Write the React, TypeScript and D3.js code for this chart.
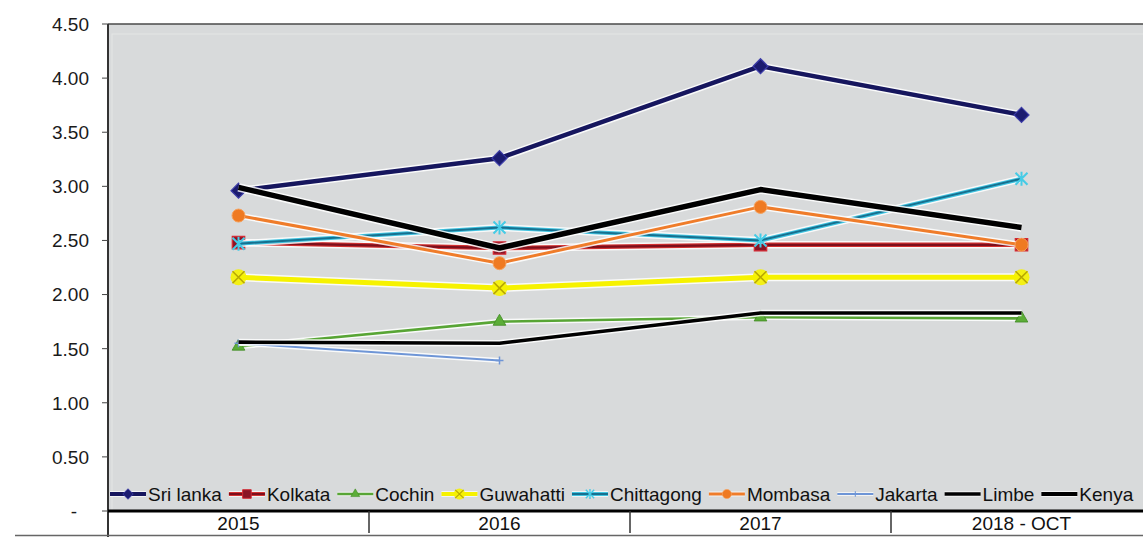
import React, { useMemo } from "react";
import * as d3 from "d3";

// Categories and tick values
const categories = ["2015", "2016", "2017", "2018 - OCT"];
const yTicks = [0, 0.5, 1, 1.5, 2, 2.5, 3, 3.5, 4, 4.5];

// Series values per category (null = no data)
const sriLanka = [2.96, 3.26, 4.11, 3.66];
const kolkata = [2.48, 2.43, 2.46, 2.46];
const cochin = [1.52, 1.75, 1.79, 1.78];
const guwahatti = [2.16, 2.06, 2.16, 2.16];
const chittagong = [2.47, 2.62, 2.5, 3.07];
const mombasa = [2.73, 2.29, 2.81, 2.46];
const jakarta: (number | null)[] = [1.55, 1.39, null, null];
const limbe = [1.56, 1.55, 1.83, 1.83];
const kenya = [2.99, 2.43, 2.97, 2.62];

const seriesNames = ["Sri lanka", "Kolkata", "Cochin", "Guwahatti", "Chittagong", "Mombasa", "Jakarta", "Limbe", "Kenya"];
const seriesValues: (number | null)[][] = [sriLanka, kolkata, cochin, guwahatti, chittagong, mombasa, jakarta, limbe, kenya];

type Marker = "diamond" | "square" | "triangle" | "times" | "asterisk" | "circle" | "plus" | "none";
interface Style { color: string; inner?: string; width: number; marker: Marker; }

const styles: Record<string, Style> = {
  "Sri lanka": { color: "#16165e", width: 4.5, marker: "diamond" },
  Kolkata: { color: "#d23030", inner: "#7c0f1c", width: 4.5, marker: "square" },
  Cochin: { color: "#58a535", width: 2.6, marker: "triangle" },
  Guwahatti: { color: "#f6f200", width: 5, marker: "times" },
  Chittagong: { color: "#3fc3e0", inner: "#17708f", width: 4, marker: "asterisk" },
  Mombasa: { color: "#ef7c2a", width: 3, marker: "circle" },
  Jakarta: { color: "#6e95d6", width: 2, marker: "plus" },
  Limbe: { color: "#000000", width: 3.6, marker: "none" },
  Kenya: { color: "#000000", width: 5.5, marker: "none" },
};

const W = 1143;
const H = 537;
const FONT = "'Liberation Sans', Arial, sans-serif";
const FS = 19;

function MarkerGlyph({ type, x, y, scale = 1 }: { type: Marker; x: number; y: number; scale?: number }) {
  const t = `translate(${x},${y}) scale(${scale})`;
  switch (type) {
    case "diamond":
      return <path transform={t} d="M0,-7.5L7.5,0L0,7.5L-7.5,0Z" fill="#1c1c70" stroke="#3c3ca8" strokeWidth={1.2} />;
    case "square":
      return <path transform={t} d={d3.symbol(d3.symbolSquare, 150)()!} fill="#8a1526" stroke="#d42a34" strokeWidth={1.4} />;
    case "triangle":
      return <path transform={t} d={d3.symbol(d3.symbolTriangle, 70)()!} fill="#5cad38" stroke="#3f8a22" strokeWidth={0.8} />;
    case "times":
      return (
        <g transform={t}>
          <circle r={8} fill="#f6f200" opacity={0.9} />
          <path d="M-6,-6L6,6M-6,6L6,-6" stroke="#b8a800" strokeWidth={1.6} />
        </g>
      );
    case "asterisk":
      return (
        <g transform={t}>
          <path d="M-6,-6L6,6M-6,6L6,-6M0,-7L0,7" stroke="#45cbe6" strokeWidth={2} />
        </g>
      );
    case "circle":
      return <circle transform={t} r={6.5} fill="#ef7a22" stroke="#f6a15c" strokeWidth={1} />;
    case "plus":
      return <path transform={t} d="M-4,0L4,0M0,-4L0,4" stroke="#6e95d6" strokeWidth={1.5} />;
    default:
      return null;
  }
}

export default function App() {
  const margin = { left: 108, top: 24, bottom: 511 };
  const x = d3.scaleBand<string>().domain(categories).range([margin.left, margin.left + 261 * categories.length]).paddingInner(0).paddingOuter(0);
  const y = d3.scaleLinear().domain([0, 4.5]).range([margin.bottom, margin.top]);
  const cx = (c: string) => (x(c) ?? 0) + x.bandwidth() / 2;

  const line = d3
    .line<{ c: string; v: number | null }>()
    .defined((d) => d.v != null)
    .x((d) => cx(d.c))
    .y((d) => y(d.v as number));

  const fmt = (v: number) => (v === 0 ? "-" : d3.format(".2f")(v));

  // Legend layout: widths measured from the rendered font
  const legendItems = useMemo(() => {
    const canvas = document.createElement("canvas");
    const ctx = canvas.getContext("2d")!;
    ctx.font = `${FS}px ${FONT}`;
    let cur = 110;
    return seriesNames.map((name) => {
      const w = ctx.measureText(name).width;
      const item = { name, x: cur, tx: cur + 38 };
      cur = cur + 38 + w + 7;
      return item;
    });
  }, []);

  const legendY = 494;

  return (
    <svg width={W} height={H} style={{ position: "absolute", left: 0, top: 0, background: "#fff" }} fontFamily={FONT}>
      {/* plot area */}
      <rect x={margin.left} y={margin.top} width={W - margin.left} height={margin.bottom - margin.top} fill="#d8dadb" />
      <rect x={margin.left + 4} y={margin.top + 10} width={W - margin.left} height={margin.bottom - margin.top - 10} fill="none" stroke="#e4e6e6" strokeWidth={1} />
      <line x1={margin.left} x2={W} y1={margin.top} y2={margin.top} stroke="#4a4a4a" strokeWidth={1.5} />

      {/* y axis */}
      <line x1={margin.left} x2={margin.left} y1={margin.top} y2={H} stroke="#333" strokeWidth={2} />
      {yTicks.map((t) => (
        <g key={t}>
          <line x1={margin.left - 6} x2={margin.left} y1={y(t)} y2={y(t)} stroke="#444" strokeWidth={1} />
          <text x={89} dx={t === 0 ? -12 : 0} y={y(t)} dy="0.36em" textAnchor="end" fontSize={FS} fill="#1a1a1a">
            {fmt(t)}
          </text>
        </g>
      ))}

      {/* series */}
      {seriesNames.map((name, i) => {
        const s = styles[name];
        const pts = categories.map((c, j) => ({ c, v: seriesValues[i][j] }));
        const d = line(pts) ?? "";
        return (
          <g key={name}>
            <path d={d} fill="none" stroke="#fff" strokeWidth={s.width + 3} strokeLinejoin="round" opacity={0.85} />
            <path d={d} fill="none" stroke={s.color} strokeWidth={s.width} strokeLinejoin="round" />
            {s.inner && <path d={d} fill="none" stroke={s.inner} strokeWidth={s.width / 2} strokeLinejoin="round" />}
            {pts
              .filter((p) => p.v != null)
              .map((p) => (
                <MarkerGlyph key={p.c} type={s.marker} x={cx(p.c)} y={y(p.v as number)} />
              ))}
          </g>
        );
      })}

      {/* legend */}
      {legendItems.map((it) => {
        const s = styles[it.name];
        return (
          <g key={it.name}>
            <line x1={it.x} x2={it.x + 36} y1={legendY} y2={legendY} stroke="#fff" strokeWidth={Math.min(s.width, 4) + 2} opacity={0.7} />
            <line x1={it.x} x2={it.x + 36} y1={legendY} y2={legendY} stroke={s.color} strokeWidth={Math.min(s.width, 4)} />
            {s.inner && <line x1={it.x} x2={it.x + 36} y1={legendY} y2={legendY} stroke={s.inner} strokeWidth={1.8} />}
            <MarkerGlyph type={s.marker} x={it.x + 18} y={legendY} scale={0.7} />
            <text x={it.tx} y={legendY} dy="0.36em" fontSize={FS} fill="#111">
              {it.name}
            </text>
          </g>
        );
      })}

      {/* category axis */}
      <line x1={margin.left} x2={W} y1={margin.bottom} y2={margin.bottom} stroke="#000" strokeWidth={3} />
      {categories.slice(1).map((c) => (
        <line key={c} x1={x(c)} x2={x(c)} y1={margin.bottom} y2={533} stroke="#333" strokeWidth={1.5} />
      ))}
      {categories.map((c) => (
        <text key={c} x={cx(c)} y={523} dy="0.36em" textAnchor="middle" fontSize={FS} fill="#111">
          {c}
        </text>
      ))}
      <line x1={15} x2={W} y1={535.5} y2={535.5} stroke="#666" strokeWidth={1.5} />
    </svg>
  );
}
